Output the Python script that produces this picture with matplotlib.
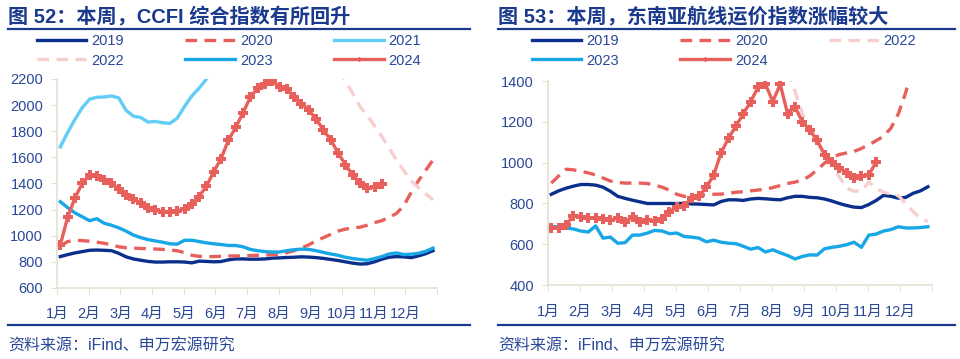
import matplotlib
matplotlib.use("Agg")
import matplotlib.pyplot as plt
from matplotlib.lines import Line2D
import numpy as np

plt.rcParams['font.family'] = ['Liberation Sans', 'Noto Sans CJK SC']

#--- Data (weekly index)
months = ["1月", "2月", "3月", "4月", "5月", "6月", "7月", "8月", "9月", "10月", "11月", "12月"]

# CCFI composite
ccfi_2019 = [840, 855, 868, 878, 888, 890, 888, 885, 865, 838, 822, 812, 803, 798, 798, 800,
             800, 798, 792, 805, 803, 800, 802, 815, 822, 822, 820, 820, 822, 828, 830, 833,
             835, 838, 836, 832, 826, 818, 810, 800, 790, 783, 785, 800, 820, 835, 840, 838,
             832, 845, 862, 885]
ccfi_2020 = [920, 955, 965, 962, 958, 950, 942, 930, 915, 908, 905, 902, 900, 898, 895, 890,
             885, 870, 850, 842, 840, 840, 842, 845, 845, 845, 848, 850, 852, 855, 858, 870,
             885, 905, 930, 960, 985, 1010, 1035, 1050, 1060, 1065, 1080, 1100, 1115, 1140, 1170, 1230,
             1330, 1420, 1500, 1580]
ccfi_2021 = [1680, 1790, 1890, 1980, 2045, 2060, 2062, 2070, 2055, 1960, 1915, 1905, 1870, 1875, 1865, 1860,
             1900, 1990, 2070, 2130, 2200, 2280]
ccfi_2022_start = 38
ccfi_2022 = [2270, 2190, 2090, 1990, 1920, 1840, 1760, 1670, 1580, 1500, 1420, 1370, 1320, 1275]
ccfi_2023 = [1260, 1215, 1175, 1145, 1115, 1130, 1095, 1080, 1060, 1035, 1005, 985, 970, 960, 950, 938,
             935, 965, 965, 955, 945, 938, 932, 925, 925, 915, 895, 885, 878, 875, 875, 885,
             893, 897, 895, 885, 872, 860, 850, 835, 825, 818, 812, 825, 840, 860, 868, 855,
             858, 865, 880, 905]
ccfi_2024 = [930, 1140, 1290, 1400, 1465, 1455, 1430, 1400, 1355, 1315, 1280, 1250, 1215, 1195, 1185, 1185,
             1190, 1205, 1240, 1300, 1380, 1490, 1590, 1730, 1830, 1940, 2060, 2130, 2165, 2185, 2140, 2125,
             2060, 2010, 1960, 1895, 1810, 1735, 1635, 1545, 1465, 1400, 1365, 1375, 1395]

# Southeast Asia route index
sea_2019 = [845, 862, 875, 885, 893, 893, 890, 880, 860, 835, 825, 816, 808, 800, 800, 800,
            800, 800, 800, 798, 797, 795, 793, 810, 818, 818, 815, 822, 825, 823, 820, 818,
            828, 835, 835, 830, 828, 822, 812, 800, 790, 782, 780, 795, 815, 840, 835, 826,
            830, 850, 862, 882]
sea_2020 = [900, 935, 968, 965, 958, 950, 940, 925, 910, 903, 900, 900, 900, 898, 890, 880,
            865, 845, 835, 835, 840, 842, 845, 846, 850, 855, 858, 862, 866, 870, 878, 888,
            898, 905, 915, 935, 965, 998, 1025, 1040, 1048, 1055, 1070, 1088, 1108, 1130, 1170, 1240,
            1345, 1470]
sea_2022_start = 32
sea_2022 = [1450, 1350, 1240, 1160, 1100, 1040, 990, 930, 875, 860, 862, 905, 875, 855, 848, 838,
            800, 760, 728, 712]
sea_2023 = [688, 685, 680, 675, 665, 660, 690, 630, 635, 605, 608, 645, 645, 655, 668, 665,
            652, 655, 638, 635, 630, 612, 620, 610, 605, 603, 590, 576, 584, 562, 573, 558,
            545, 528, 540, 548, 547, 578, 585, 590, 598, 610, 585, 645, 650, 665, 672, 686,
            680, 680, 682, 686]
sea_2024 = [680, 678, 695, 740, 735, 728, 730, 722, 718, 728, 708, 735, 710, 720, 712, 725,
            760, 782, 790, 825, 835, 880, 940, 1050, 1120, 1180, 1240, 1300, 1370, 1385, 1300, 1385,
            1240, 1275, 1200, 1160, 1110, 1040, 1005, 975, 950, 925, 935, 940, 1005]

#--- Styles
navy = '#0B2F8C'
red = '#E8605C'
cyan = '#62CDF6'
pink = '#F8CFCF'
sky = '#18A7E6'
text_blue = '#2A4898'
title_blue = '#1B3A8E'
spine_col = '#E4E0D2'

def wx(vals, start=0):
    # week index -> month position on the axis
    return (np.arange(len(vals)) + start + 0.45) * 12 / 52

fig = plt.figure(figsize=(9.6, 3.59), dpi=100)

def style_axis(ax, ylo, yhi, step):
    ax.set_xlim(0, 12)
    ax.set_ylim(ylo, yhi)
    ax.set_yticks(np.arange(ylo, yhi + 1, step))
    ax.set_xticks(np.arange(13))
    ax.set_xticklabels(months + [""])
    for s in ['top', 'right']:
        ax.spines[s].set_visible(False)
    for s in ['left', 'bottom']:
        ax.spines[s].set_color(spine_col)
        ax.spines[s].set_linewidth(1.2)
    ax.tick_params(axis='y', colors=spine_col, labelcolor=text_blue, labelsize=10.5, length=4, pad=6)
    ax.tick_params(axis='x', colors=spine_col, labelcolor=text_blue, labelsize=10.5, length=4, pad=10)
    ax.set_facecolor('none')

lw = 2.4
dash = (3.5, 2.2)

#--- Left panel
ax1 = fig.add_axes([0.0594, 0.198, 0.3958, 0.582])
ax1.plot(wx(ccfi_2019), ccfi_2019, color=navy, lw=lw, label='2019')
ax1.plot(wx(ccfi_2020), ccfi_2020, color=red, lw=lw, dashes=dash, label='2020')
ax1.plot(wx(ccfi_2021), ccfi_2021, color=cyan, lw=lw, label='2021')
ax1.plot(wx(ccfi_2022, ccfi_2022_start), ccfi_2022, color=pink, lw=lw, dashes=dash, label='2022')
ax1.plot(wx(ccfi_2023), ccfi_2023, color=sky, lw=lw, label='2023')
ax1.plot(wx(ccfi_2024), ccfi_2024, color=red, lw=lw, marker='P', ms=6.5, mew=0, label='2024')
style_axis(ax1, 600, 2200, 200)

#--- Right panel
ax2 = fig.add_axes([0.5708, 0.206, 0.4, 0.568])
ax2.plot(wx(sea_2019), sea_2019, color=navy, lw=lw, label='2019')
ax2.plot(wx(sea_2020), sea_2020, color=red, lw=lw, dashes=dash, label='2020')
ax2.plot(wx(sea_2022, sea_2022_start), sea_2022, color=pink, lw=lw, dashes=dash, label='2022')
ax2.plot(wx(sea_2023), sea_2023, color=sky, lw=lw, label='2023')
ax2.plot(wx(sea_2024), sea_2024, color=red, lw=lw, marker='P', ms=6.5, mew=0, label='2024')
style_axis(ax2, 400, 1400, 200)

#--- Legends (entries reordered so the grid reads row by row)
def make_legend(ax, cx, order):
    h, l = ax.get_legend_handles_labels()
    h = [h[i] for i in order]
    l = [l[i] for i in order]
    leg = fig.legend(h, l, loc='center', bbox_to_anchor=(cx, 1 - 51 / 359), ncol=3,
                     frameon=False, fontsize=10.5, handlelength=3.4, handletextpad=0.35,
                     columnspacing=4.2, labelspacing=0.35, markerscale=0.55, numpoints=1,
                     borderaxespad=0, borderpad=0)
    for t in leg.get_texts():
        t.set_color(text_blue)
    return leg

make_legend(ax1, 229 / 960, [0, 3, 1, 4, 2, 5])
make_legend(ax2, 724 / 960, [0, 3, 1, 4, 2])

#--- Titles, rules, source
fig.text(8 / 960, 1 - 17 / 359, "图 52：本周，CCFI 综合指数有所回升", fontsize=14.5,
         fontweight='bold', color=title_blue, va='center', ha='left')
fig.text(498 / 960, 1 - 17 / 359, "图 53：本周，东南亚航线运价指数涨幅较大", fontsize=14.5,
         fontweight='bold', color=title_blue, va='center', ha='left')

for x0, x1 in [(8, 470), (498, 955)]:
    for yy in (29, 325):
        fig.add_artist(Line2D([x0 / 960, x1 / 960], [1 - yy / 359, 1 - yy / 359],
                              color=title_blue, lw=1.6))
    fig.text(x0 / 960, 1 - 346 / 359, "资料来源：iFind、申万宏源研究", fontsize=11.5,
             color=text_blue, va='center', ha='left')

fig.savefig("out.png", dpi=100)
plt.close()
